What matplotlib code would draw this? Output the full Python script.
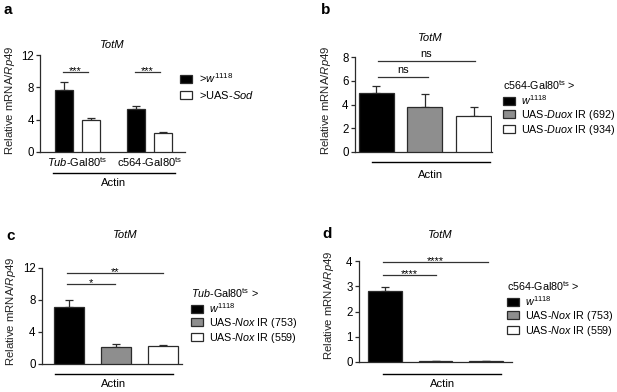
import matplotlib
matplotlib.use("Agg")
import matplotlib.pyplot as plt
import matplotlib.transforms as mtrans

plt.rcParams['font.family'] = ['Liberation Sans', 'DejaVu Sans']
plt.rcParams['mathtext.fontset'] = 'custom'
plt.rcParams['mathtext.rm'] = 'Liberation Sans'
plt.rcParams['mathtext.it'] = 'Liberation Sans:italic'
plt.rcParams['mathtext.bf'] = 'Liberation Sans:bold'

# ---------------- data ----------------
# panel a
a_groups = ["$\\mathit{Tub}$-Gal80$^{\\mathrm{ts}}$", "c564-Gal80$^{\\mathrm{ts}}$"]
a_series = [">$\\mathit{w}^{\\mathrm{1118}}$", ">UAS-$\\mathit{Sod}$"]
a_means = [[7.7, 5.3], [3.9, 2.4]]   # [series][group]
a_errs = [[0.9, 0.45], [0.3, 0.12]]
a_yticks = [0, 4, 8, 12]
a_sig = ["***", "***"]

# panel b
b_labels = ["$\\mathit{w}^{\\mathrm{1118}}$", "UAS-$\\mathit{Duox}$ IR (692)", "UAS-$\\mathit{Duox}$ IR (934)"]
b_means = [5.0, 3.8, 3.05]
b_errs = [0.55, 1.1, 0.7]
b_yticks = [0, 2, 4, 6, 8]
b_sig = ["ns", "ns"]
b_title = "c564-Gal80$^{\\mathrm{ts}}$ >"

# panel c
c_labels = ["$\\mathit{w}^{\\mathrm{1118}}$", "UAS-$\\mathit{Nox}$ IR (753)", "UAS-$\\mathit{Nox}$ IR (559)"]
c_means = [7.1, 2.1, 2.2]
c_errs = [0.9, 0.4, 0.2]
c_yticks = [0, 4, 8, 12]
c_sig = ["*", "**"]
c_title = "$\\mathit{Tub}$-Gal80$^{\\mathrm{ts}}$ >"

# panel d
d_labels = ["$\\mathit{w}^{\\mathrm{1118}}$", "UAS-$\\mathit{Nox}$ IR (753)", "UAS-$\\mathit{Nox}$ IR (559)"]
d_means = [2.8, 0.03, 0.04]
d_errs = [0.17, 0.005, 0.01]
d_yticks = [0, 1, 2, 3, 4]
d_sig = ["****", "****"]
d_title = "c564-Gal80$^{\\mathrm{ts}}$ >"

gene = "TotM"
ylabel = "Relative mRNA/$\\mathit{Rp49}$"
# ---------------------------------------

W, H = 617, 392
fig = plt.figure(figsize=(W / 100, H / 100), dpi=100)
EDGE = '#2b2b2b'
COLS = ['black', '#8e8e8e', 'white']
FS = 7.3
LFS = FS + 0.45


def add_axes_px(left, right, top, bottom):
    return fig.add_axes([left / W, 1 - bottom / H, (right - left) / W, (bottom - top) / H])


def style(ax, yticks):
    for s in ['top', 'right']:
        ax.spines[s].set_visible(False)
    for s in ['left', 'bottom']:
        ax.spines[s].set_color(EDGE)
        ax.spines[s].set_linewidth(0.9)
    ax.set_ylim(yticks[0], yticks[-1])
    ax.set_yticks(yticks)
    ax.tick_params(axis='y', length=3, width=0.9, color=EDGE, labelsize=FS + 1, pad=1.5)
    ax.tick_params(axis='x', length=0)
    ax.set_xticks([])
    ax.set_ylabel(ylabel, fontsize=FS + 0.9, color='#222222')


def bars(ax, xs, vals, errs, colors, width):
    conts = []
    for x, v, e, c in zip(xs, vals, errs, colors):
        ax.errorbar([x], [v], yerr=[[0], [e]], fmt='none', ecolor=EDGE, elinewidth=0.9,
                    capsize=3.2, capthick=0.9, zorder=2)
        bc = ax.bar([x], [v], width=width, color=c, edgecolor=EDGE, linewidth=0.9, zorder=3)
        conts.append(bc)
    return conts


def sigline(ax, x0, x1, y, text, dy):
    ax.plot([x0, x1], [y, y], color='#333333', lw=0.9, clip_on=False)
    ax.text((x0 + x1) / 2, y + dy, text, ha='center', va='bottom',
            fontsize=FS + 0.6, clip_on=False)


def actin(ax, x0, x1, yl, yt):
    tr = mtrans.blended_transform_factory(ax.transData, ax.transAxes)
    ax.plot([x0, x1], [yl, yl], color='black', lw=1.0, transform=tr, clip_on=False)
    ax.text((x0 + x1) / 2, yt, "Actin", transform=tr, ha='center', va='center', fontsize=FS + 0.8)


def letter(x, y, t):
    fig.text(x / W, 1 - y / H, t, fontsize=11, fontweight='bold', ha='left', va='center')


# ---- panel a ----
ax = add_axes_px(40, 185, 55, 152)
style(ax, a_yticks)
gx = [0.0, 2.67]
w = 0.67
xa0 = [g for g in gx]
xa1 = [g + 1 for g in gx]
c0 = bars(ax, xa0, a_means[0], a_errs[0], ['black'] * 2, w)
c1 = bars(ax, xa1, a_means[1], a_errs[1], ['white'] * 2, w)
ax.set_xlim(-0.89, 4.48)
for i, g in enumerate(gx):
    sigline(ax, g - 0.05, g + 0.9, 9.9, a_sig[i], -0.45)
    ax.text(g + 0.5, -0.35, a_groups[i], ha='center', va='top', fontsize=FS + 0.7)
actin(ax, -0.41, 4.11, -0.216, -0.32)
ax.text(0.5, 1.10, gene, transform=ax.transAxes, ha='center', va='center', style='italic', fontsize=FS + 0.8)
ax.yaxis.set_label_coords(-0.159, 0.53)
ax.legend([c0[0], c1[0]], a_series, loc='upper left', bbox_to_anchor=(180 / W, 1 - 71 / H),
          bbox_transform=fig.transFigure, frameon=False, fontsize=LFS + 0.3, handlelength=1.1,
          handleheight=0.75, handletextpad=0.6, labelspacing=0.4, borderaxespad=0, borderpad=0)
letter(3, 10, "a")


def three_panel(box, means, errs, yticks, sig, siglines, xl, w, title_pos, actin_pos, lab_coords,
                labels, ltitle, leg_pos, spacing):
    ax = add_axes_px(*box)
    style(ax, yticks)
    xs = [0, 1, 2]
    conts = bars(ax, xs, means, errs, COLS, w)
    ax.set_xlim(*xl)
    for (x0, x1, y), s in zip(siglines, sig):
        dy = -(yticks[-1] * 0.045) if '*' in s else yticks[-1] * 0.025
        sigline(ax, x0, x1, y, s, dy)
    ax.text(title_pos[0], title_pos[1], gene, transform=mtrans.blended_transform_factory(ax.transData, ax.transAxes),
            ha='center', va='center', style='italic', fontsize=FS + 0.8)
    actin(ax, *actin_pos)
    ax.yaxis.set_label_coords(*lab_coords)
    ax.legend([c[0] for c in conts], labels, title=ltitle, loc='upper left',
              bbox_to_anchor=(leg_pos[0] / W, 1 - leg_pos[1] / H), bbox_transform=fig.transFigure,
              frameon=False, fontsize=LFS, title_fontsize=LFS, handlelength=1.1,
              handleheight=0.7, handletextpad=0.55, labelspacing=spacing, borderaxespad=0,
              borderpad=0, alignment='left')
    return ax


# ---- panel b ----
three_panel((355, 492, 57, 152), b_means, b_errs, b_yticks, b_sig,
            [(0.03, 1.06, 6.3), (0.03, 2.03, 7.66)], (-0.44, 2.38), 0.72,
            (1.1, 1.2), (-0.09, 2.34, -0.105, -0.24), (-0.16, 0.55),
            b_labels, b_title, (503, 78), 0.1)
letter(321, 10, "b")

# ---- panel c ----
three_panel((42, 182, 268, 364), c_means, c_errs, c_yticks, c_sig,
            [(-0.04, 0.98, 10.0), (-0.04, 2.0, 11.4)], (-0.57, 2.4), 0.64,
            (1.19, 1.34), (-0.3, 2.21, -0.104, -0.21), (-0.171, 0.55),
            c_labels, c_title, (191, 286), 0.1)
letter(6, 236, "c")

# ---- panel d ----
three_panel((359, 512, 261, 362), d_means, d_errs, d_yticks, d_sig,
            [(-0.04, 1.01, 3.45), (-0.04, 2.03, 3.96)], (-0.51, 2.51), 0.67,
            (1.09, 1.26), (-0.04, 2.3, -0.12, -0.22), (-0.15, 0.56),
            d_labels, d_title, (507, 279), 0.1)
letter(322, 234, "d")

fig.savefig("out.png", dpi=100)
